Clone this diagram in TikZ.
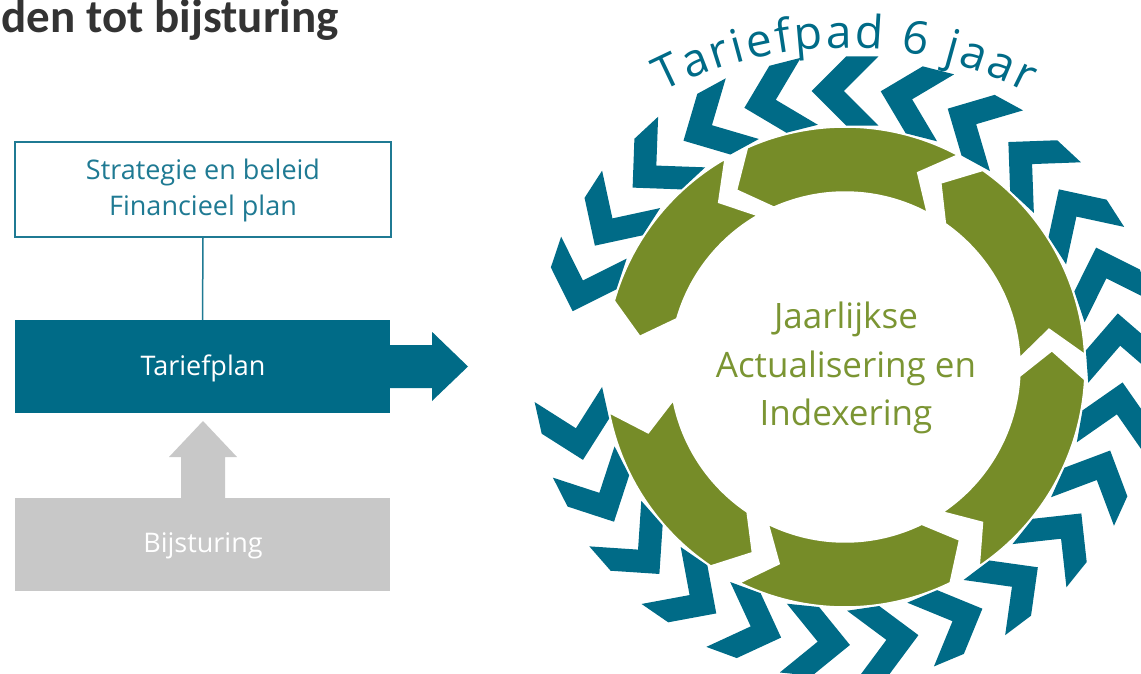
\documentclass[tikz,border=0pt]{standalone}
\usepackage{fontspec}
\setmainfont{Open Sans}
\newfontfamily\titlefont{Carlito}
\usetikzlibrary{decorations.text}
\definecolor{tealc}{HTML}{006B87}
\definecolor{tealtext}{HTML}{1F7A93}
\definecolor{ringgreen}{HTML}{768C28}
\definecolor{greentext}{HTML}{7B9533}
\definecolor{boxgray}{HTML}{C8C8C8}
\definecolor{titlegray}{HTML}{333333}
\newcommand\greenseg[2]{%
  \fill[ringgreen, draw=white, line width=1.5pt, line join=miter]
   (#1:240) arc[start angle=#1, end angle=#2, radius=240]
   -- ({#2+7.5}:207.5) -- (#2:175)
   arc[start angle=#2, end angle=#1, radius=175]
   -- ({#1+7.5}:207.5) -- cycle;}
\begin{document}
\begin{tikzpicture}[x=1pt,y=1pt,
  lefttext/.style={anchor=base, inner sep=0, font=\fontsize{27}{32}\selectfont},
  ringtext/.style={anchor=base, inner sep=0, text=greentext, font=\fontsize{35}{40}\selectfont},
  chev/.style={fill=tealc}]
\useasboundingbox (0,0) rectangle (1141,-674);
% title
\node[anchor=base west, text=titlegray, inner sep=0, font=\titlefont\bfseries\fontsize{47}{47}\selectfont] (title) at (1.5,-33) {den tot bijsturing};
% left column
\node[draw=tealtext, line width=1.5pt, fill=white, minimum width=376, minimum height=95, inner sep=0] (strat) at (203,-189.5) {};
\node[lefttext, text=tealtext] (s1) at (203,-179) {Strategie en beleid};
\node[lefttext, text=tealtext] (s2) at (203,-215) {Financieel plan};
\node[fill=tealc, minimum width=375, minimum height=93, inner sep=0] (tp) at (202.5,-366.5) {};
\node[lefttext, text=white] (tpt) at (203,-375) {Tariefplan};
\draw[tealtext, line width=1.5pt] (strat.south) -- (tp.north);
\fill[tealc] (tp.east) ++(0,21.5) -- ++(42,0) -- ++(0,13) -- (468,-366.5) -- (432,-401) -- (432,-388) -- (390,-388) -- cycle;
\node[fill=boxgray, minimum width=375, minimum height=93, inner sep=0] (bs) at (202.5,-544.5) {};
\node[lefttext, text=white] (bst) at (203,-552) {Bijsturing};
\fill[boxgray] (181,-498) -- (181,-457) -- (169,-457) -- (203,-421) -- (237,-457) -- (225,-457) -- (225,-498) -- cycle;
% cycle
\begin{scope}[shift={(845,-367)}]
  \foreach \k [evaluate=\k as \a using 90+14.3*\k] in {-18,...,5}
    \fill[chev, shift={(\a:276)}, rotate=\a, scale=1.08] (32,-31) -- (32,-1) -- (0,31) -- (-32,-1) -- (-32,-31) -- (0,1) -- cycle;
  \greenseg{3}{55}
  \greenseg{62}{114}
  \greenseg{120}{164}
  \greenseg{191}{236}
  \greenseg{244}{296}
  \greenseg{304}{357}
\end{scope}
\node[ringtext] (r1) at (846,-328) {Jaarlijkse};
\node[ringtext] (r2) at (846,-377) {Actualisering en};
\node[ringtext] (r3) at (846,-425) {Indexering};
\path[decorate, decoration={text along path, text={|\fontsize{46}{46}\selectfont|Tariefpad 6 jaar}, text color=tealc, text align={fit to path}}]
  (844,-443) ++(117.3:395) arc[start angle=117.3, end angle=62.4, radius=395];
\end{tikzpicture}
\end{document}
